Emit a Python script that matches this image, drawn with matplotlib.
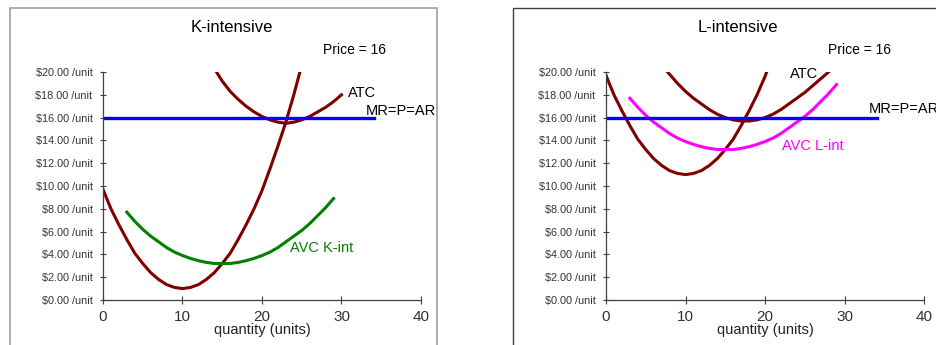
import matplotlib
matplotlib.use("Agg")
import matplotlib.pyplot as plt
from matplotlib.patches import Rectangle

plt.rcParams['font.family'] = ['Liberation Sans', 'DejaVu Sans']

# quantities and costs
q_mc = [0, 1, 2, 3, 4, 5, 6, 7, 8, 9, 10, 11, 12, 13, 14, 15, 16, 17, 18, 19, 20, 21, 22, 23, 24, 25]
mc_k = [9.7, 8.0, 6.6, 5.3, 4.1, 3.2, 2.4, 1.8, 1.35, 1.1, 1.0, 1.1, 1.35, 1.8, 2.4, 3.2,
        4.1, 5.3, 6.6, 8.0, 9.6, 11.5, 13.5, 15.6, 18.0, 20.6]
mc_l = [19.7, 18.0, 16.6, 15.3, 14.1, 13.2, 12.4, 11.8, 11.35, 11.1, 11.0, 11.1, 11.35, 11.8,
        12.4, 13.2, 14.1, 15.3, 16.6, 18.0, 19.6, 21.5, 23.5, 25.6, 28.0, 30.6]

q_atc_k = [14, 15, 16, 17, 18, 19, 20, 21, 22, 23, 24, 25, 26, 27, 28, 29, 30]
atc_k = [20.3, 19.2, 18.3, 17.6, 17.0, 16.5, 16.1, 15.8, 15.6, 15.5, 15.6, 15.8, 16.1, 16.5,
         16.9, 17.4, 18.0]

q_atc_l = [7, 8, 9, 10, 11, 12, 13, 14, 15, 16, 17, 18, 19, 20, 21, 22, 23, 24, 25, 26, 27, 28, 29]
atc_l = [20.6, 19.8, 19.0, 18.3, 17.7, 17.2, 16.7, 16.3, 16.0, 15.8, 15.7, 15.7, 15.8, 16.0,
         16.3, 16.7, 17.2, 17.7, 18.2, 18.8, 19.4, 20.0, 20.7]

q_avc = [3, 4, 5, 6, 7, 8, 9, 10, 11, 12, 13, 14, 15, 16, 17, 18, 19, 20, 21, 22, 23, 24, 25,
         26, 27, 28, 29]
avc_k = [7.7, 6.9, 6.2, 5.6, 5.1, 4.6, 4.2, 3.9, 3.65, 3.45, 3.3, 3.2, 3.2, 3.2, 3.3, 3.45,
         3.65, 3.9, 4.2, 4.6, 5.1, 5.6, 6.1, 6.7, 7.4, 8.1, 8.9]
avc_l = [17.7, 16.9, 16.2, 15.6, 15.1, 14.6, 14.2, 13.9, 13.65, 13.45, 13.3, 13.2, 13.2, 13.2,
         13.3, 13.45, 13.65, 13.9, 14.2, 14.6, 15.1, 15.6, 16.1, 16.7, 17.4, 18.1, 18.9]

price = 16
mr_q = [0, 34.1]

yticks = [0, 2, 4, 6, 8, 10, 12, 14, 16, 18, 20]
ytick_labels = ['$%.2f /unit' % v for v in yticks]
xticks = [0, 10, 20, 30, 40]

W, H = 937, 345
fig = plt.figure(figsize=(W / 100, H / 100), dpi=100)

# panel frames
fig.patches.append(Rectangle((10 / W, -0.1), 427 / W, 1.1 - 8 / H, transform=fig.transFigure,
                             fill=False, edgecolor='#a0a0a0', linewidth=1.2))
fig.patches.append(Rectangle((513 / W, -0.1), 1.0, 1.1 - 8 / H, transform=fig.transFigure,
                             fill=False, edgecolor='#404040', linewidth=1.0))


def panel(left_px, title, title_x, price_x, mc, q_atc, atc, avc, avc_col, avc_name,
          atc_pos, mr_pos, avc_pos):
    ax = fig.add_axes([left_px / W, 45 / H, 318 / W, 228 / H])
    ax.plot(q_mc, mc, color='#800000', lw=2.2, solid_joinstyle='round')
    ax.plot(q_atc, atc, color='#800000', lw=2.2, solid_joinstyle='round')
    ax.plot(q_avc, avc, color=avc_col, lw=2.2, solid_joinstyle='round')
    ax.plot(mr_q, [price, price], color='#0000ff', lw=2.4)
    ax.set_xlim(0, 40)
    ax.set_ylim(0, 20)
    for s in ['top', 'right']:
        ax.spines[s].set_visible(False)
    for s in ['left', 'bottom']:
        ax.spines[s].set_color('#404040')
        ax.spines[s].set_linewidth(0.9)
    ax.set_xticks(xticks)
    ax.set_yticks(yticks)
    ax.set_yticklabels(ytick_labels)
    ax.tick_params(axis='y', direction='inout', length=5, labelsize=7.8, pad=5,
                   colors='#404040', labelcolor='#333333')
    ax.tick_params(axis='x', direction='inout', length=6, labelsize=11, pad=4,
                   colors='#404040', labelcolor='#333333')
    ax.text(0.5, -0.13, 'quantity (units)', transform=ax.transAxes, ha='center',
            va='center', fontsize=10.5, color='#222222')
    ax.text(atc_pos[0], atc_pos[1], 'ATC', fontsize=10.5, va='center', ha='left',
            clip_on=False)
    ax.text(mr_pos[0], mr_pos[1], 'MR=P=AR', fontsize=10.5, va='center', ha='left',
            clip_on=False)
    ax.text(avc_pos[0], avc_pos[1], avc_name, fontsize=10.5, va='center', ha='left',
            color=avc_col, clip_on=False)
    fig.text(title_x / W, 1 - 27 / H, title, ha='center', va='center', fontsize=12)
    fig.text(price_x / W, 1 - 50 / H, 'Price = %d' % price, ha='left', va='center',
             fontsize=10)
    return ax


panel(103, 'K-intensive', 232, 323, mc_k, q_atc_k, atc_k, avc_k, '#008000', 'AVC K-int',
      (30.8, 18.2), (33.0, 16.6), (23.5, 4.6))
panel(606, 'L-intensive', 737.5, 828, mc_l, q_atc_l, atc_l, avc_l, '#ff00ff', 'AVC L-int',
      (23.2, 19.8), (33.0, 16.75), (22.1, 13.55))

fig.savefig('out.png', dpi=100)
